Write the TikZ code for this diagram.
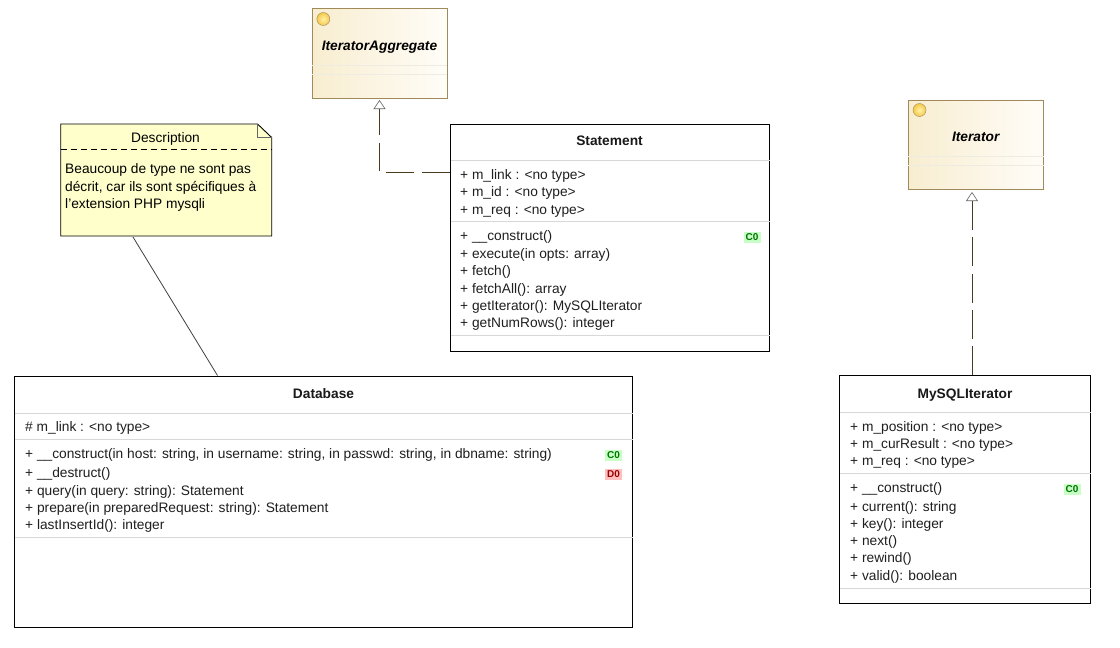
\documentclass[tikz,border=0pt]{standalone}
\usepackage{fontspec}
\setmainfont{Liberation Sans}
\usetikzlibrary{arrows.meta,shapes.geometric}
\definecolor{ifborder}{HTML}{A08A5A}
\definecolor{ifdark}{HTML}{F8EDD0}
\definecolor{iflight}{HTML}{FFFDF8}
\definecolor{sepgray}{HTML}{D8D8D8}
\definecolor{assoc}{HTML}{4A3B20}
\definecolor{notefill}{HTML}{FFFFCC}
\definecolor{balllight}{HTML}{FFF2A8}
\definecolor{balldark}{HTML}{F5C84A}
\tikzset{
 x=1pt,y=-1pt,
 classbox/.style={draw=black,line width=1pt,fill=white,inner sep=0pt,outer sep=0pt,anchor=north west},
 ifbox/.style={draw=ifborder,line width=1pt,left color=ifdark,right color=iflight,inner sep=0pt,outer sep=0pt,anchor=north west},
 sep/.style={draw=sepgray,line width=0.8pt},
 ifsep/.style={draw=ifdark!70!gray!40,line width=0.6pt},
 member/.style={anchor=base west,inner sep=0pt,font=\fontsize{13.75}{15}\selectfont,text=black!88},
 titlelabel/.style={anchor=base,inner sep=0pt,font=\fontsize{13.75}{15}\selectfont\bfseries,text=black!90},
 iftitle/.style={anchor=base,inner sep=0pt,font=\fontsize{13.75}{15}\selectfont\bfseries\itshape},
 badgeC/.style={fill=green!22,text=green!45!black,inner sep=0pt,font=\fontsize{10}{10}\selectfont\bfseries,minimum width=17pt,minimum height=11pt},
 badgeD/.style={fill=red!25,text=red!60!black,inner sep=0pt,font=\fontsize{10}{10}\selectfont\bfseries,minimum width=17pt,minimum height=11pt},
 realize/.style={draw=assoc,line width=0.9pt,{Triangle[open,length=9pt,width=12pt,fill=white,color=black!60,line width=0.6pt]}-},
 ball/.style={circle,draw=ifborder,inner color=balllight,outer color=balldark,minimum size=13pt,inner sep=0pt},
}
\begin{document}
\begin{tikzpicture}
\useasboundingbox (0,0) rectangle (1120,648);
\fill[white] (0,0) rectangle (1120,648);

% IteratorAggregate
\node[ifbox,minimum width=135pt,minimum height=90pt] (ia) at (312,8.5) {};
\draw[ifsep] (312,65) -- (447,65) (312,74) -- (447,74);
\node[ball] (iaball) at (323.3,19) {};
\node[iftitle] (iat) at (379.5,50) {IteratorAggregate};

% Iterator
\node[ifbox,minimum width=135.5pt,minimum height=89pt] (it) at (908,100) {};
\draw[ifsep] (908,156) -- (1043.5,156) (908,165) -- (1043.5,165);
\node[ball] (itball) at (919.5,110) {};
\node[iftitle] (itt) at (975.7,141) {Iterator};

% Note
\node[inner sep=0pt,outer sep=0pt,anchor=north west,minimum width=211pt,minimum height=112pt] (note) at (60.7,124) {};
\draw[fill=notefill,line width=0.9pt] (60.7,124) -- (257.5,124) -- (271.7,137.5) -- (271.7,236) -- (60.7,236) -- cycle;
\draw[line width=0.7pt,draw=black!60] (257.5,124) -- (257.5,137.5) -- (271.7,137.5);
\draw[dash pattern=on 6pt off 4pt,line width=0.6pt] (60.7,149.5) -- (271.7,149.5);
\node[anchor=base,inner sep=0pt,font=\fontsize{13.75}{15}\selectfont] (notet) at (165.5,142.5) {Description};
\node[member,text=black] (n1) at (65,173.5) {Beaucoup de type ne sont pas};
\node[member,text=black] (n2) at (65,191) {décrit, car ils sont spécifiques à};
\node[member,text=black] (n3) at (65,208) {l’extension PHP mysqli};

% Statement
\node[classbox,minimum width=319pt,minimum height=227pt] (st) at (450.5,124) {};
\draw[sep] (450.5,160.5) -- (769.5,160.5) (450.5,221.5) -- (769.5,221.5) (450.5,335.5) -- (769.5,335.5);
\node[titlelabel] (stt) at (609.5,145.5) {Statement};
\node[member] (s1) at (460,179) {+ m\_link : <no type>};
\node[member] (s2) at (460,196.5) {+ m\_id : <no type>};
\node[member] (s3) at (460,214) {+ m\_req : <no type>};
\node[member] (s4) at (460,240.5) {+ \_\_construct()};
\node[member] (s5) at (460,258.5) {+ execute(in opts: array)};
\node[member] (s6) at (460,275.5) {+ fetch()};
\node[member] (s7) at (460,293) {+ fetchAll(): array};
\node[member] (s8) at (460,310.5) {+ getIterator(): MySQLIterator};
\node[member] (s9) at (460,327.5) {+ getNumRows(): integer};
\node[badgeC] (sb) at (752,237) {C0};

% Database
\node[classbox,minimum width=618pt,minimum height=251pt] (db) at (14.5,376) {};
\draw[sep] (14.5,413.5) -- (632.5,413.5) (14.5,439.5) -- (632.5,439.5) (14.5,537.5) -- (632.5,537.5);
\node[titlelabel] (dbt) at (323.5,398.5) {Database};
\node[member] (d0) at (25,431.5) {\# m\_link : <no type>};
\node[member] (d1) at (25,458.5) {+ \_\_construct(in host: string, in username: string, in passwd: string, in dbname: string)};
\node[member] (d2) at (25,477) {+ \_\_destruct()};
\node[member] (d3) at (25,495.5) {+ query(in query: string): Statement};
\node[member] (d4) at (25,512.5) {+ prepare(in preparedRequest: string): Statement};
\node[member] (d5) at (25,529.5) {+ lastInsertId(): integer};
\node[badgeC] (db1) at (613.5,455) {C0};
\node[badgeD] (db2) at (613.5,474) {D0};

% MySQLIterator
\node[classbox,minimum width=251pt,minimum height=228pt] (my) at (839.5,375.5) {};
\draw[sep] (839.5,412.5) -- (1090.5,412.5) (839.5,473.5) -- (1090.5,473.5) (839.5,588.5) -- (1090.5,588.5);
\node[titlelabel] (myt) at (965,398) {MySQLIterator};
\node[member] (m1) at (850,431.5) {+ m\_position : <no type>};
\node[member] (m2) at (850,448.5) {+ m\_curResult : <no type>};
\node[member] (m3) at (850,465.5) {+ m\_req : <no type>};
\node[member] (m4) at (850,492) {+ \_\_construct()};
\node[member] (m5) at (850,511) {+ current(): string};
\node[member] (m6) at (850,528) {+ key(): integer};
\node[member] (m7) at (850,545) {+ next()};
\node[member] (m8) at (850,562) {+ rewind()};
\node[member] (m9) at (850,580) {+ valid(): boolean};
\node[badgeC] (mb) at (1072,489) {C0};

% connectors
\coordinate (iatip) at ([yshift=-1.5pt]ia.south);
\coordinate (stin) at (st.west |- 0,172);
\draw[realize,dash pattern=on 28pt off 8pt,dash phase=2pt] (iatip) -- (iatip |- stin) -- (stin);
\coordinate (ittip) at (972,192);
\coordinate (myin) at (972,375.5);
\draw[realize,dash pattern=on 29pt off 7.4pt] (ittip) -- (myin);
\coordinate (noteout) at (133,237);
\coordinate (dbin) at (217.5,375.5);
\draw[black!75,line width=0.8pt] (noteout) -- (dbin);
\end{tikzpicture}
\end{document}
